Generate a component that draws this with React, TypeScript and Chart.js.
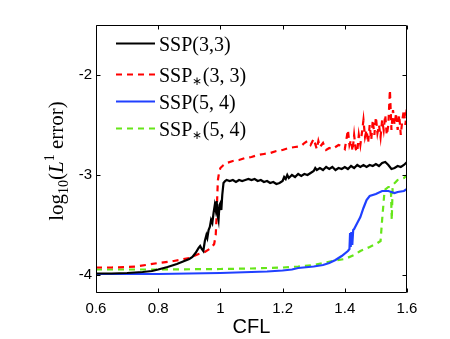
import React, { useEffect, useRef } from "react";
import { Chart, registerables } from "chart.js";

Chart.register(...registerables);

const xTicks = [0.6, 0.8, 1, 1.2, 1.4, 1.6];
const yTicks = [-4, -3, -2];

const blackX = [0.6, 0.65, 0.7, 0.75, 0.78, 0.8, 0.83, 0.86, 0.88, 0.9, 0.91, 0.92, 0.93, 0.935, 0.94, 0.945, 0.95, 0.955, 0.958, 0.962, 0.966, 0.97, 0.974, 0.978, 0.982, 0.985, 0.988, 0.991, 0.994, 0.997, 1.0, 1.003, 1.006, 1.01, 1.015, 1.02, 1.03, 1.04, 1.05, 1.06, 1.07, 1.08, 1.09, 1.1, 1.11, 1.12, 1.13, 1.14, 1.15, 1.16, 1.17, 1.18, 1.19, 1.2, 1.205, 1.21, 1.215, 1.22, 1.23, 1.24, 1.25, 1.26, 1.27, 1.28, 1.29, 1.3, 1.305, 1.31, 1.32, 1.33, 1.34, 1.35, 1.36, 1.37, 1.38, 1.39, 1.4, 1.41, 1.42, 1.43, 1.44, 1.45, 1.46, 1.47, 1.48, 1.49, 1.5, 1.51, 1.52, 1.53, 1.54, 1.55, 1.56, 1.57, 1.58, 1.59, 1.6];
const blackY = [-3.985, -3.985, -3.98, -3.97, -3.96, -3.945, -3.92, -3.89, -3.865, -3.84, -3.82, -3.78, -3.73, -3.71, -3.74, -3.76, -3.66, -3.6, -3.63, -3.55, -3.52, -3.45, -3.48, -3.38, -3.3, -3.35, -3.26, -3.4, -3.45, -3.3, -3.28, -3.35, -3.2, -3.08, -3.06, -3.05, -3.06, -3.05, -3.07, -3.05, -3.06, -3.05, -3.04, -3.05, -3.04, -3.06, -3.05, -3.07, -3.06, -3.08, -3.07, -3.09, -3.08, -3.06, -3.02, -3.04, -3.0, -3.03, -3.0, -3.02, -2.99, -3.01, -2.99, -3.0, -2.98, -2.96, -2.93, -2.95, -2.93, -2.95, -2.92, -2.94, -2.92, -2.95, -2.93, -2.94, -2.92, -2.94, -2.91, -2.93, -2.9, -2.92, -2.9, -2.92, -2.9, -2.91, -2.89, -2.91, -2.88, -2.87, -2.9, -2.94, -2.93, -2.91, -2.92, -2.9, -2.87];

const redX = [0.6, 0.65, 0.7, 0.73, 0.76, 0.8, 0.85, 0.9, 0.93, 0.95, 0.97, 0.98, 0.985, 0.988, 0.99, 0.992, 0.996, 1.0, 1.01, 1.02, 1.04, 1.06, 1.08, 1.1, 1.12, 1.14, 1.16, 1.18, 1.2, 1.22, 1.24, 1.26, 1.27, 1.28, 1.29, 1.3, 1.31, 1.315, 1.32, 1.33, 1.34, 1.35, 1.36, 1.37, 1.38, 1.39, 1.4, 1.41, 1.415, 1.42, 1.425, 1.43, 1.435, 1.44, 1.445, 1.45, 1.455, 1.46, 1.465, 1.47, 1.475, 1.48, 1.485, 1.49, 1.495, 1.5, 1.505, 1.51, 1.515, 1.52, 1.525, 1.53, 1.535, 1.54, 1.545, 1.55, 1.555, 1.56, 1.565, 1.57, 1.575, 1.58, 1.585, 1.59, 1.595, 1.6];
const redY = [-3.925, -3.925, -3.92, -3.915, -3.9, -3.88, -3.86, -3.83, -3.79, -3.77, -3.73, -3.69, -3.6, -3.4, -3.2, -3.05, -2.97, -2.93, -2.9, -2.88, -2.86, -2.85, -2.83, -2.82, -2.8, -2.79, -2.78, -2.76, -2.75, -2.73, -2.72, -2.71, -2.68, -2.66, -2.7, -2.64, -2.74, -2.66, -2.72, -2.68, -2.75, -2.73, -2.74, -2.72, -2.7, -2.71, -2.74, -2.55, -2.7, -2.65, -2.76, -2.6, -2.74, -2.77, -2.6, -2.7, -2.58, -2.45, -2.62, -2.55, -2.68, -2.5, -2.65, -2.45, -2.6, -2.42, -2.58, -2.5, -2.62, -2.45, -2.55, -2.4, -2.6, -2.5, -2.15, -2.55, -2.35, -2.5, -2.38, -2.55, -2.4, -2.6, -2.45, -2.35, -2.5, -2.3];

const blueX = [0.6, 0.7, 0.8, 0.9, 1.0, 1.1, 1.15, 1.2, 1.23, 1.25, 1.3, 1.33, 1.35, 1.37, 1.39, 1.41, 1.415, 1.417, 1.419, 1.421, 1.424, 1.427, 1.43, 1.44, 1.45, 1.46, 1.47, 1.48, 1.5, 1.52, 1.54, 1.55, 1.56, 1.57, 1.59, 1.6];
const blueY = [-3.99, -3.99, -3.99, -3.985, -3.98, -3.97, -3.965, -3.955, -3.945, -3.93, -3.915, -3.9, -3.88, -3.85, -3.81, -3.76, -3.74, -3.58, -3.72, -3.57, -3.7, -3.55, -3.54, -3.48, -3.42, -3.33, -3.25, -3.21, -3.19, -3.16, -3.16, -3.17, -3.18, -3.17, -3.16, -3.14];

const greenX = [0.6, 0.8, 1.0, 1.1, 1.2, 1.25, 1.3, 1.33, 1.36, 1.4, 1.43, 1.45, 1.48, 1.5, 1.515, 1.52, 1.528, 1.54, 1.548, 1.551, 1.554, 1.57, 1.59, 1.6];
const greenY = [-3.945, -3.945, -3.94, -3.935, -3.925, -3.915, -3.9, -3.88, -3.86, -3.84, -3.8, -3.76, -3.72, -3.69, -3.66, -3.45, -3.15, -3.12, -3.12, -3.45, -3.1, -3.05, -3.03, -3.0];

const seriesNames = ["SSP(3,3)", "SSP*(3, 3)", "SSP(5, 4)", "SSP*(5, 4)"];
const seriesColors = ["#000000", "#ff0000", "#2040ff", "#66e619"];
const seriesDashed = [false, true, false, true];

const SERIF = '"Liberation Serif", "Times New Roman", serif';
const SANS = '"Liberation Sans", Arial, sans-serif';

function zip(xs: number[], ys: number[]) {
  return xs.map((x, i) => ({ x, y: ys[i] }));
}

const framePlugin = {
  id: "frame",
  afterDatasetsDraw(chart: any) {
    const { ctx, chartArea } = chart;
    const { left, right, top, bottom } = chartArea;
    const xs = chart.scales.x;
    const ys = chart.scales.y;
    ctx.save();
    ctx.strokeStyle = "#000";
    ctx.lineWidth = 1;
    ctx.setLineDash([]);
    const L = Math.round(left) + 0.5;
    const R = Math.round(right) - 0.5;
    const T = Math.round(top) + 0.5;
    const B = Math.round(bottom) - 0.5;
    ctx.beginPath();
    ctx.rect(L, T, R - L, B - T);
    ctx.stroke();
    const tl = 4;
    ctx.beginPath();
    xTicks.forEach((v) => {
      const px = Math.round(xs.getPixelForValue(v)) + 0.5;
      ctx.moveTo(px, B);
      ctx.lineTo(px, B - tl);
      ctx.moveTo(px, T);
      ctx.lineTo(px, T + tl);
    });
    yTicks.forEach((v) => {
      const py = Math.round(ys.getPixelForValue(v)) + 0.5;
      ctx.moveTo(L, py);
      ctx.lineTo(L + tl, py);
      ctx.moveTo(R, py);
      ctx.lineTo(R - tl, py);
    });
    ctx.stroke();

    // legend
    const rowsY = [43.5, 74.5, 101.5, 128.5];
    const lx0 = 116;
    const lx1 = 155;
    const tx = 159;
    seriesNames.forEach((name, i) => {
      const y = rowsY[i];
      ctx.beginPath();
      ctx.strokeStyle = seriesColors[i];
      ctx.lineWidth = 2.2;
      ctx.setLineDash(seriesDashed[i] ? [6, 5] : []);
      ctx.moveTo(lx0, y);
      ctx.lineTo(lx1, y);
      ctx.stroke();
      ctx.setLineDash([]);
      ctx.fillStyle = "#000";
      ctx.textBaseline = "alphabetic";
      ctx.textAlign = "left";
      const base = y + 7;
      const big = "20px " + SERIF;
      const small = "12px " + SERIF;
      const star = name.indexOf("*");
      let x = tx;
      if (star >= 0) {
        const a = name.slice(0, star);
        const b = name.slice(star + 1);
        ctx.font = big;
        ctx.fillText(a, x, base);
        x += ctx.measureText(a).width;
        ctx.font = small;
        ctx.fillText("\u2217", x, base + 3);
        x += ctx.measureText("\u2217").width + 0.5;
        ctx.font = big;
        ctx.fillText(b, x, base);
      } else {
        ctx.font = big;
        ctx.fillText(name, x, base);
      }
    });

    // y-axis title: log10(L^1 error)
    ctx.save();
    ctx.translate(63, 161);
    ctx.rotate(-Math.PI / 2);
    ctx.fillStyle = "#000";
    ctx.textBaseline = "alphabetic";
    ctx.textAlign = "left";
    const parts = [
      { t: "log", f: "21px " + SERIF, dy: 0 },
      { t: "10", f: "14px " + SERIF, dy: 5 },
      { t: "(", f: "21px " + SERIF, dy: 0 },
      { t: "L", f: "italic 21px " + SERIF, dy: 0 },
      { t: "1", f: "14px " + SERIF, dy: -9 },
      { t: " error)", f: "21px " + SERIF, dy: 0 },
    ];
    let total = 0;
    parts.forEach((p) => {
      ctx.font = p.f;
      total += ctx.measureText(p.t).width;
    });
    let cx = -total / 2;
    parts.forEach((p) => {
      ctx.font = p.f;
      ctx.fillText(p.t, cx, p.dy);
      cx += ctx.measureText(p.t).width;
    });
    ctx.restore();
    ctx.restore();
  },
};

export default function App() {
  const ref = useRef<HTMLCanvasElement | null>(null);
  useEffect(() => {
    document.body.style.margin = "0";
    const canvas = ref.current;
    if (!canvas) return;
    const datasets = [
      zip(blackX, blackY),
      zip(redX, redY),
      zip(blueX, blueY),
      zip(greenX, greenY),
    ].map((d, i) => ({
      label: seriesNames[i],
      data: d,
      borderColor: seriesColors[i],
      backgroundColor: seriesColors[i],
      borderWidth: 2.2,
      borderDash: seriesDashed[i] ? [6, 5] : [],
      pointRadius: 0,
      tension: 0,
      fill: false,
    }));
    const chart = new Chart(canvas, {
      type: "line",
      data: { datasets },
      options: {
        responsive: false,
        animation: false,
        events: [],
        layout: { padding: { left: 0, top: 25, right: 43, bottom: 0 } },
        plugins: { legend: { display: false }, tooltip: { enabled: false } },
        scales: {
          x: {
            type: "linear",
            min: 0.6,
            max: 1.6,
            afterBuildTicks: (s: any) => {
              s.ticks = xTicks.map((v) => ({ value: v }));
            },
            afterFit: (s: any) => {
              s.height = 46;
            },
            grid: { display: false, drawTicks: false },
            border: { display: false },
            ticks: {
              autoSkip: false,
              maxRotation: 0,
              padding: 7,
              color: "#000",
              font: { family: SANS, size: 15 },
              callback: (v: any) => String(parseFloat(Number(v).toFixed(2))),
            },
            title: {
              display: true,
              text: "CFL",
              color: "#000",
              font: { family: SANS, size: 20 },
              padding: { top: 0, bottom: 0 },
            },
          },
          y: {
            type: "linear",
            min: -4.18,
            max: -1.5,
            afterBuildTicks: (s: any) => {
              s.ticks = yTicks.map((v) => ({ value: v }));
            },
            afterFit: (s: any) => {
              s.width = 96;
            },
            grid: { display: false, drawTicks: false },
            border: { display: false },
            ticks: {
              autoSkip: false,
              padding: 4,
              color: "#000",
              font: { family: SANS, size: 15 },
              callback: (v: any) => String(v),
            },
          },
        },
      },
      plugins: [framePlugin],
    });
    return () => chart.destroy();
  }, []);
  return (
    <div style={{ position: "absolute", left: 0, top: 0, width: 450, height: 339, background: "#fff" }}>
      <canvas ref={ref} width={450} height={339} style={{ display: "block" }} />
    </div>
  );
}
